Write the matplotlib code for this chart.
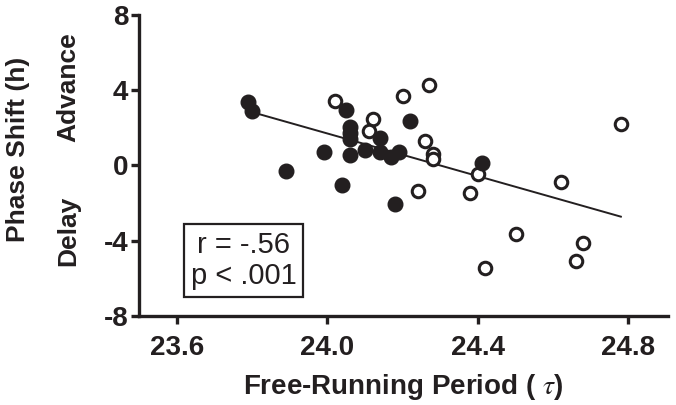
import numpy as np
import matplotlib
matplotlib.use("Agg")
import matplotlib.pyplot as plt

plt.rcParams["font.family"] = ["Liberation Sans", "DejaVu Sans"]
plt.rcParams["mathtext.fontset"] = "stix"
plt.rcParams["axes.unicode_minus"] = False

# Free-running period (tau) and phase shift (h)
filled_tau = [23.79, 23.80, 23.89, 23.99, 24.04, 24.05, 24.06, 24.06, 24.06, 24.06,
              24.10, 24.14, 24.14, 24.17, 24.19, 24.22, 24.18, 24.41]
filled_shift = [3.37, 2.89, -0.30, 0.73, -1.03, 2.94, 2.04, 1.74, 1.38, 0.55,
                0.81, 1.44, 0.71, 0.46, 0.73, 2.36, -2.04, 0.11]

open_tau = [24.02, 24.12, 24.11, 24.20, 24.27, 24.26, 24.28, 24.28, 24.24, 24.40,
            24.38, 24.62, 24.78, 24.50, 24.42, 24.68, 24.66]
open_shift = [3.42, 2.48, 1.83, 3.69, 4.26, 1.29, 0.59, 0.32, -1.37, -0.43,
              -1.45, -0.89, 2.23, -3.67, -5.44, -4.10, -5.09]

x_ticks = [23.6, 24.0, 24.4, 24.8]
y_ticks = [-8, -4, 0, 4, 8]

ink = "#231f20"

fig = plt.figure(figsize=(6.76, 4.05), dpi=100)
ax = fig.add_axes([0.206, 0.22, 0.782, 0.743])

# least-squares fit over all subjects
all_tau = np.array(filled_tau + open_tau)
all_shift = np.array(filled_shift + open_shift)
slope, intercept = np.polyfit(all_tau, all_shift, 1)
fit_x = np.array([all_tau.min(), all_tau.max()])
ax.plot(fit_x, slope * fit_x + intercept, color=ink, lw=1.4, zorder=1)

ax.plot(filled_tau, filled_shift, "o", ms=10.5, color=ink, zorder=3)
ax.plot(open_tau, open_shift, "o", ms=9, mfc="white", mec=ink, mew=2.2, zorder=2)

ax.set_xlim(23.5, 24.905)
ax.set_ylim(-8, 8)
ax.set_xticks(x_ticks)
ax.set_xticklabels([f"{t:.1f}" for t in x_ticks])
ax.set_yticks(y_ticks)

for side in ["top", "right"]:
    ax.spines[side].set_visible(False)
for side in ["left", "bottom"]:
    ax.spines[side].set_linewidth(2.4)
    ax.spines[side].set_color(ink)
ax.tick_params(width=2.4, length=6, color=ink, labelcolor=ink, pad=2)
ax.tick_params(axis="x", pad=8)
for lab in ax.get_xticklabels() + ax.get_yticklabels():
    lab.set_fontsize(20)
    lab.set_fontweight("bold")

ax.set_xlabel(r"Free-Running Period ( $\tau$)", fontsize=20, fontweight="bold",
              color=ink, labelpad=8)
fig.text(0.026, 0.632, "Phase Shift (h)", rotation=90, fontsize=19, fontweight="bold",
         color=ink, ha="center", va="center")
fig.text(0.101, 0.784, "Advance", rotation=90, fontsize=19, fontweight="bold",
         color=ink, ha="center", va="center")
fig.text(0.101, 0.43, "Delay", rotation=90, fontsize=19, fontweight="bold",
         color=ink, ha="center", va="center")

ax.text(23.777, -5.05, "r = -.56\np < .001", fontsize=21, color=ink,
        ha="center", va="center", linespacing=1.1,
        bbox=dict(boxstyle="square,pad=0.24", fc="white", ec=ink, lw=1.6))

fig.savefig("out.png", dpi=100)
